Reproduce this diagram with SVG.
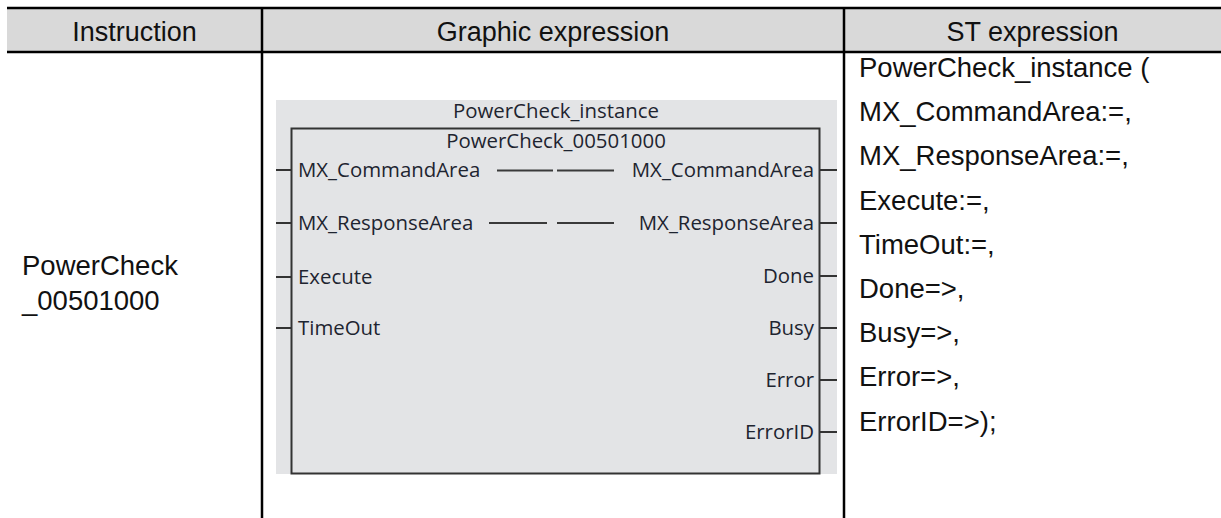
<svg xmlns="http://www.w3.org/2000/svg" width="1221" height="518" viewBox="0 0 1221 518">
  <style>
    .hdr { font-family: "Liberation Sans", Arial, sans-serif; font-size: 27px; fill: #111; text-anchor: middle; }
    .body { font-family: "Liberation Sans", Arial, sans-serif; font-size: 27.5px; fill: #111; }
    .fb { font-family: "Open Sans", "Noto Sans", sans-serif; font-size: 20.4px; fill: #1e2430; }
    .rule { stroke: #000; stroke-width: 2.5; fill: none; }
    .pin { stroke: #333; stroke-width: 2; fill: none; }
    .wire { stroke: #3a3a3a; stroke-width: 2; fill: none; }
  </style>

  <!-- table header band -->
  <rect x="7" y="8" width="1214" height="44" fill="#d9d9d9"/>
  <line class="rule" x1="7" y1="8" x2="1221" y2="8"/>
  <line class="rule" x1="7" y1="52" x2="1221" y2="52"/>
  <line class="rule" x1="262" y1="8" x2="262" y2="518"/>
  <line class="rule" x1="844" y1="8" x2="844" y2="518"/>

  <text class="hdr" x="134.5" y="41">Instruction</text>
  <text class="hdr" x="553" y="41">Graphic expression</text>
  <text class="hdr" x="1032.5" y="41">ST expression</text>

  <!-- instruction name -->
  <g id="instruction">
    <text class="body" x="22" y="275">PowerCheck</text>
    <text class="body" x="22" y="310">_00501000</text>
  </g>

  <!-- function block -->
  <g id="block">
    <rect x="276" y="100" width="561" height="374" fill="#e3e4e6"/>
    <rect x="291.5" y="128.5" width="528" height="345" fill="none" stroke="#333" stroke-width="2"/>
    <text class="fb" x="556" y="118" text-anchor="middle">PowerCheck_instance</text>
    <text class="fb" x="556" y="148" text-anchor="middle">PowerCheck_00501000</text>
  </g>

  <g id="inputs">
    <text class="fb" x="298" y="177">MX_CommandArea</text>
    <text class="fb" x="298" y="230">MX_ResponseArea</text>
    <text class="fb" x="298" y="284">Execute</text>
    <text class="fb" x="298" y="335">TimeOut</text>
  </g>

  <g id="outputs">
    <text class="fb" x="814" y="177" text-anchor="end">MX_CommandArea</text>
    <text class="fb" x="814" y="230" text-anchor="end">MX_ResponseArea</text>
    <text class="fb" x="814" y="283" text-anchor="end">Done</text>
    <text class="fb" x="814" y="335" text-anchor="end">Busy</text>
    <text class="fb" x="814" y="387" text-anchor="end">Error</text>
    <text class="fb" x="814" y="439" text-anchor="end">ErrorID</text>
  </g>

  <g id="connectors">
    <!-- input pins -->
    <line class="pin" x1="276" y1="170" x2="291" y2="170"/>
    <line class="pin" x1="276" y1="223" x2="291" y2="223"/>
    <line class="pin" x1="276" y1="277" x2="291" y2="277"/>
    <line class="pin" x1="276" y1="328" x2="291" y2="328"/>
    <!-- output pins -->
    <line class="pin" x1="820" y1="170" x2="837" y2="170"/>
    <line class="pin" x1="820" y1="223" x2="837" y2="223"/>
    <line class="pin" x1="820" y1="276" x2="837" y2="276"/>
    <line class="pin" x1="820" y1="328" x2="837" y2="328"/>
    <line class="pin" x1="820" y1="380" x2="837" y2="380"/>
    <line class="pin" x1="820" y1="432" x2="837" y2="432"/>
    <!-- in-out pass-through -->
    <line class="wire" x1="497" y1="170.5" x2="553" y2="170.5"/>
    <line class="wire" x1="557" y1="170.5" x2="614" y2="170.5"/>
    <line class="wire" x1="489" y1="223" x2="547" y2="223"/>
    <line class="wire" x1="557" y1="223" x2="614" y2="223"/>
  </g>

  <!-- structured text call -->
  <g id="st">
    <text class="body" x="859" y="77">PowerCheck_instance (</text>
    <text class="body" x="859" y="121.2">MX_CommandArea:=,</text>
    <text class="body" x="859" y="165.4">MX_ResponseArea:=,</text>
    <text class="body" x="859" y="209.6">Execute:=,</text>
    <text class="body" x="859" y="253.8">TimeOut:=,</text>
    <text class="body" x="859" y="298">Done=&gt;,</text>
    <text class="body" x="859" y="342.2">Busy=&gt;,</text>
    <text class="body" x="859" y="386.4">Error=&gt;,</text>
    <text class="body" x="859" y="430.6">ErrorID=&gt;);</text>
  </g>
</svg>
